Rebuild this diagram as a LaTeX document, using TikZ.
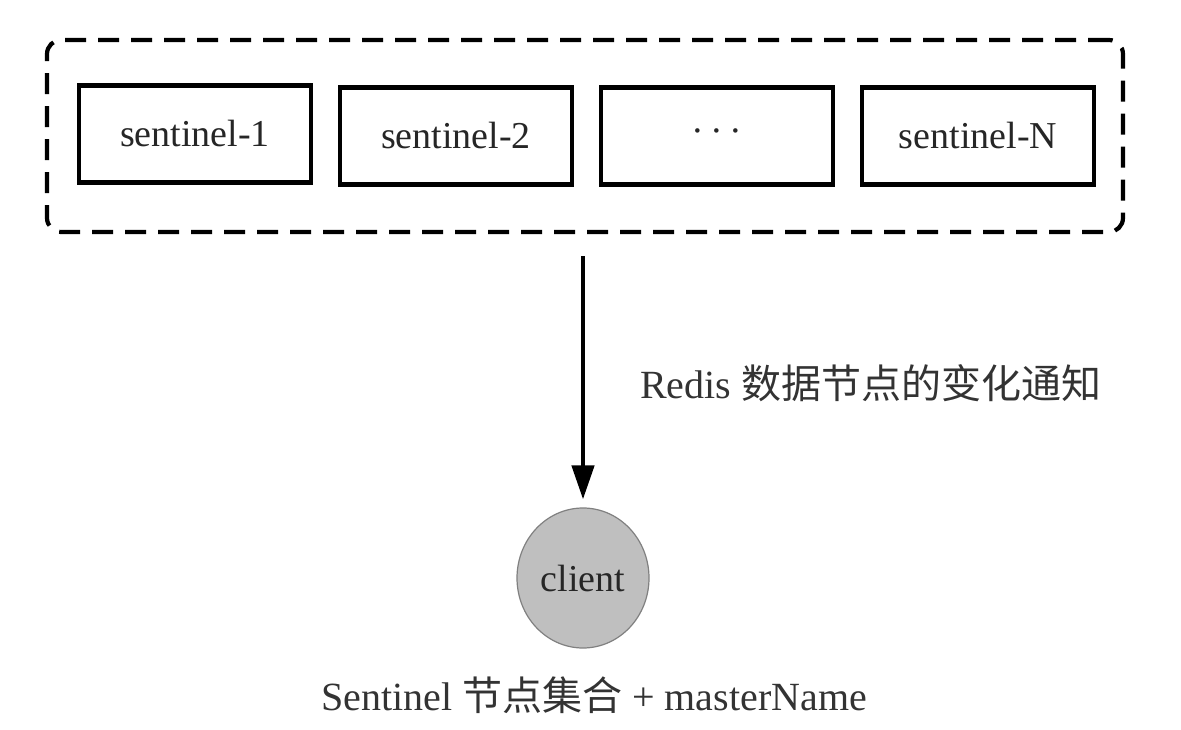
\documentclass[tikz,border=0pt]{standalone}
\usepackage{fontspec}
\setmainfont{Liberation Serif}
\newfontfamily\cjk{Noto Sans CJK SC}
\usetikzlibrary{arrows.meta,shapes.geometric}
\tikzset{
  sentbox/.style={draw=black, line width=4.4pt, minimum width=232pt, minimum height=97pt, inner sep=0pt, text=black!85, font=\fontsize{38}{44}\selectfont},
  groupbox/.style={draw=black, line width=4.2pt, dash pattern=on 21pt off 12pt, rounded corners=14pt, minimum width=1076pt, minimum height=192pt},
  clientnode/.style={ellipse, draw=black!50, line width=1.2pt, fill=black!25, minimum width=132pt, minimum height=140pt, inner sep=0pt, text=black!85, font=\fontsize{38}{44}\selectfont},
  labeltext/.style={text=black!80, inner sep=0pt, font=\fontsize{40}{48}\selectfont}
}
\begin{document}
\begin{tikzpicture}[x=1pt, y=-1pt]
\useasboundingbox (0,0) rectangle (1181,730);

% sentinel set
\node[groupbox] (group) at (585,136) {};
\node[sentbox] (s1) at (195,134) {sentinel-1};
\node[sentbox] (s2) at (456,136) {sentinel-2};
\node[sentbox] (sdots) at (717,136) {\textperiodcentered\,\textperiodcentered\,\textperiodcentered};
\node[sentbox] (sN) at (978,136) {sentinel-N};

% client
\node[clientnode] (client) at (583,578) {client};
\node[labeltext] (notice) at (640,383) [anchor=west] {Redis {\cjk 数据节点的变化通知}};
\node[labeltext] (setname) at (594,695) {Sentinel {\cjk 节点集合} + masterName};

\draw[line width=4.5pt, -{Triangle[length=34pt, width=22pt]}, shorten <=22pt, shorten >=8pt] (group.south -| client) -- (client.north);

\end{tikzpicture}
\end{document}
